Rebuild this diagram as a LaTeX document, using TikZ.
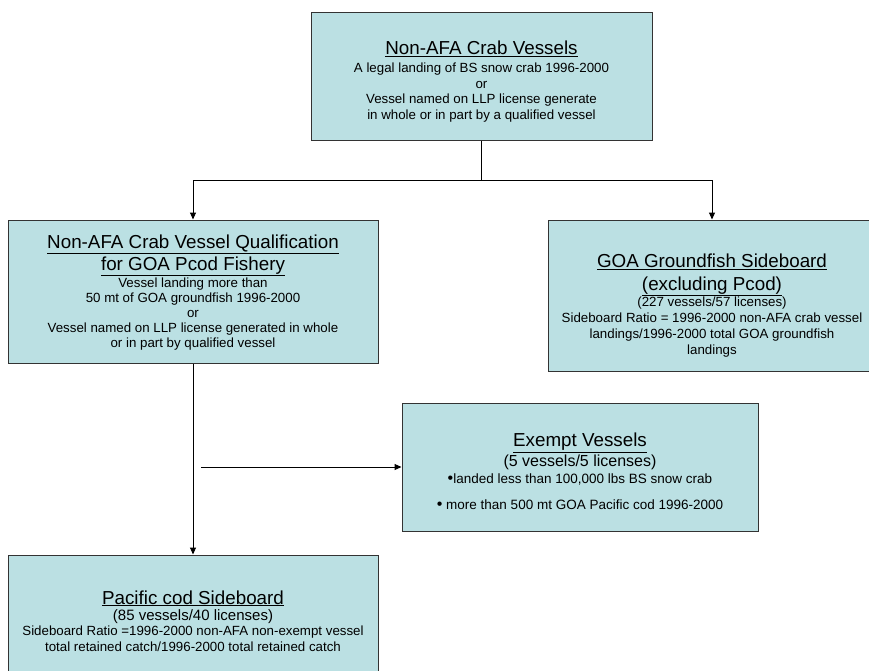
\documentclass[tikz,border=0pt]{standalone}
\usepackage{fontspec}
\setmainfont{Liberation Sans}
\usepackage{tikz}
\usetikzlibrary{arrows.meta}
\definecolor{boxfill}{RGB}{187,224,227}
\definecolor{boxline}{RGB}{51,51,51}
%% sizes in pt, one pt per pixel of the reference
\newcommand{\bodyskip}[1]{\fontsize{13.3}{#1}\selectfont\lineskiplimit=-50pt}
\newcommand{\headsize}{\fontsize{18.8}{21}\selectfont}
\newcommand{\countsize}[1]{\fontsize{#1}{18}\selectfont}
\newcommand{\dotmark}{{\fontsize{16}{15}\selectfont •}}

\begin{document}
\begin{tikzpicture}[x=1pt,y=-1pt,
	box/.style={draw=boxline, line width=1pt, fill=boxfill, inner sep=0pt},
	txt/.style={align=center, inner sep=0pt},
	link/.style={line width=1pt, -{Triangle[length=7pt,width=6pt]}}]
		%%Location
		\useasboundingbox (0,0) rectangle (869,670);
		%%Boxes
		\node[box, minimum width=341, minimum height=128] (crab) at (481.5,76) {};
		\node[box, minimum width=370, minimum height=143] (qual) at (193,291.5) {};
		\node[box, minimum width=328, minimum height=151] (goa) at (712,295.5) {};
		\node[box, minimum width=356, minimum height=128] (exempt) at (580,467) {};
		\node[box, minimum width=370, minimum height=145] (pcod) at (193,627.5) {};
		%%Texts
		\node[txt, font=\bodyskip{15.7}] (crabtext) at (481.5,81.5) {{\headsize\underline{Non-AFA Crab Vessels}}\\[2.7pt]
			A legal landing of BS snow crab 1996-2000\\ or\\ Vessel named on LLP license generate\\ in whole or in part by a qualified vessel};
		\node[txt, font=\bodyskip{15}] (qualtext) at (193,292.4) {{\headsize\underline{Non-AFA Crab Vessel Qualification}}\\[6.7pt]
			{\headsize\underline{for GOA Pcod Fishery}}\\[2.3pt] Vessel landing more than\\ 50 mt of GOA groundfish 1996-2000\\ or\\
			Vessel named on LLP license generated in whole\\ or in part by qualified vessel};
		\node[txt, font=\bodyskip{15.8}] (goatext) at (712,305.5) {{\headsize\underline{GOA Groundfish Sideboard}}\\[6.8pt]
			{\headsize\underline{(excluding Pcod)}}\\[0.9pt] (227 vessels/57 licenses)\\[0.2pt] Sideboard Ratio = 1996-2000 non-AFA crab vessel\\
			landings/1996-2000 total GOA groundfish\\ landings};
		\node[txt, font=\bodyskip{15.5}] (exempttext) at (580,471) {{\headsize\underline{Exempt Vessels}}\\[4.5pt]
			{\countsize{16}(5 vessels/5 licenses)}\\[1.8pt] {\fontsize{13.5}{15}\selectfont \dotmark landed less than 100,000 lbs BS snow crab}\\[9.9pt]
			{\fontsize{13.5}{15}\selectfont \dotmark\ more than 500 mt GOA Pacific cod 1996-2000}};
		\node[txt, font=\bodyskip{15.4}] (pcodtext) at (193,620.8) {{\headsize\underline{Pacific cod Sideboard}}\\[0.9pt]
			{\countsize{15}(85 vessels/40 licenses)}\\ Sideboard Ratio =1996-2000 non-AFA non-exempt vessel\\
			total retained catch/1996-2000 total retained catch};
		%%Connectors
		\coordinate (split) at (481.5,180);
		\coordinate (branch) at (201,467);
		\draw[line width=1pt] (crab.south) -- (split);
		\draw[link] (split) -| (qual.north);
		\draw[link] (split) -| (goa.north);
		\draw[link] (qual.south) -- (pcod.north);
		\draw[link] (branch) -- (exempt.west);
\end{tikzpicture}
\end{document}
